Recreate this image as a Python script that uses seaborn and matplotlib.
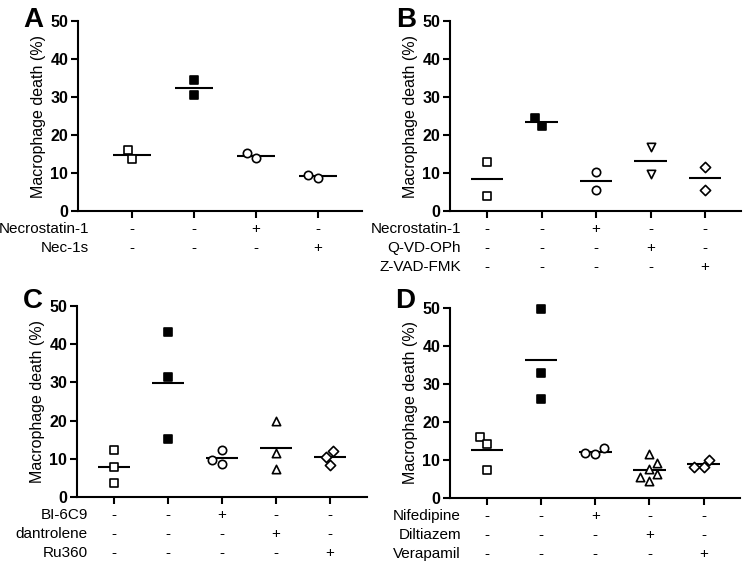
import pandas as pd
import matplotlib.pyplot as plt
import seaborn as sns

sns.set_style("ticks", {"text.color": "black", "axes.labelcolor": "black",
                        "xtick.color": "black", "ytick.color": "black",
                        "axes.edgecolor": "black"})
plt.rcParams["font.family"] = ["Liberation Sans", "DejaVu Sans"]

# Panel A
a_values = [[13.6, 16.0], [34.4, 30.6], [13.9, 15.2], [8.8, 9.4]]
a_rows = ["Necrostatin-1", "Nec-1s"]
a_signs = [["-", "-", "+", "-"],
           ["-", "-", "-", "+"]]
a_markers = ["s", "s", "o", "o"]
a_filled = [False, True, False, False]

# Panel B
b_values = [[13.0, 4.0], [22.5, 24.5], [10.3, 5.4], [16.8, 9.7], [11.7, 5.6]]
b_rows = ["Necrostatin-1", "Q-VD-OPh", "Z-VAD-FMK"]
b_signs = [["-", "-", "+", "-", "-"],
           ["-", "-", "-", "+", "-"],
           ["-", "-", "-", "-", "+"]]
b_markers = ["s", "s", "o", "v", "D"]
b_filled = [False, True, False, False, False]

# Panel C
c_values = [[12.3, 7.9, 3.7], [43.2, 31.5, 15.1], [12.2, 8.6, 9.6],
            [19.8, 11.5, 7.2], [12.0, 10.6, 8.5]]
c_rows = ["BI-6C9", "dantrolene", "Ru360"]
c_signs = [["-", "-", "+", "-", "-"],
           ["-", "-", "-", "+", "-"],
           ["-", "-", "-", "-", "+"]]
c_markers = ["s", "s", "o", "^", "D"]
c_filled = [False, True, False, False, False]

# Panel D
d_values = [[16.0, 14.1, 7.5], [49.8, 32.8, 26.0], [13.2, 11.6, 11.9],
            [11.7, 9.1, 7.7, 6.2, 4.4, 5.4], [10.1, 8.2, 8.2]]
d_rows = ["Nifedipine", "Diltiazem", "Verapamil"]
d_signs = [["-", "-", "+", "-", "-"],
           ["-", "-", "-", "+", "-"],
           ["-", "-", "-", "-", "+"]]
d_markers = ["s", "s", "o", "^", "D"]
d_filled = [False, True, False, False, False]

y_ticks = [0, 10, 20, 30, 40, 50]

panels = [
    ("A", a_values, a_rows, a_signs, a_markers, a_filled,
     [78, 21, 362, 211], (-0.87, 3.71), (23, 7)),
    ("B", b_values, b_rows, b_signs, b_markers, b_filled,
     [450, 21, 741, 211], (-0.68, 4.66), (396, 7)),
    ("C", c_values, c_rows, c_signs, c_markers, c_filled,
     [77, 306, 367, 497], (-0.69, 4.69), (23, 288)),
    ("D", d_values, d_rows, d_signs, d_markers, d_filled,
     [450, 308, 740, 498], (-0.68, 4.67), (395, 288)),
]

W, H = 744, 562
fig = plt.figure(figsize=(W / 100, H / 100), dpi=100)

for letter, values, rows, signs, markers, filled, box, xlim, lpos in panels:
    x0, y0, x1, y1 = box
    ax = fig.add_axes([x0 / W, 1 - y1 / H, (x1 - x0) / W, (y1 - y0) / H])

    groups = [str(i) for i in range(len(values))]
    df = pd.DataFrame({
        "group": [g for g, v in zip(groups, values) for _ in v],
        "value": [x for v in values for x in v],
    })

    # mean lines
    sns.boxplot(data=df, x="group", y="value", order=groups, ax=ax,
                width=0.6, showmeans=True, meanline=True,
                showbox=False, showcaps=False, showfliers=False,
                meanprops={"color": "black", "linestyle": "-", "linewidth": 1.5},
                medianprops={"visible": False},
                whiskerprops={"visible": False})

    for g, m, f in zip(groups, markers, filled):
        sub = df[df["group"] == g]
        sns.swarmplot(data=sub, x="group", y="value", order=groups, ax=ax,
                      marker=m, size=6 if m != "D" else 5.2,
                      color="black" if f else "white",
                      edgecolor="black", linewidth=1.2, clip_on=False, zorder=3)

    ax.set_xlim(*xlim)
    ax.set_ylim(0, 50)
    ax.set_yticks(y_ticks, labels=[str(t) for t in y_ticks],
                  fontweight="heavy", fontsize=11.5)
    ax.set_xticks(range(len(groups)), labels=[""] * len(groups))
    ax.set_xlabel("")
    ax.set_ylabel("Macrophage death (%)", fontsize=11.5, labelpad=3)
    sns.despine(ax=ax)
    for s in ["left", "bottom"]:
        ax.spines[s].set_linewidth(1.5)
    ax.tick_params(width=1.5, length=5, pad=2, colors="black")

    # treatment table below the axis
    for r, (name, row) in enumerate(zip(rows, signs)):
        off = -(18 + 19 * r)
        ax.annotate(name, xy=(0, 0), xycoords="axes fraction",
                    xytext=(11, off), textcoords="offset pixels",
                    ha="right", va="center", fontsize=11)
        for i, s in enumerate(row):
            ax.annotate(s, xy=(i, 0), xycoords=("data", "axes fraction"),
                        xytext=(0, off), textcoords="offset pixels",
                        ha="center", va="center", fontsize=11)

    fig.text(lpos[0] / W, 1 - lpos[1] / H, letter, fontsize=20,
             fontweight="bold", ha="left", va="top")

fig.savefig("out.png", dpi=100)
